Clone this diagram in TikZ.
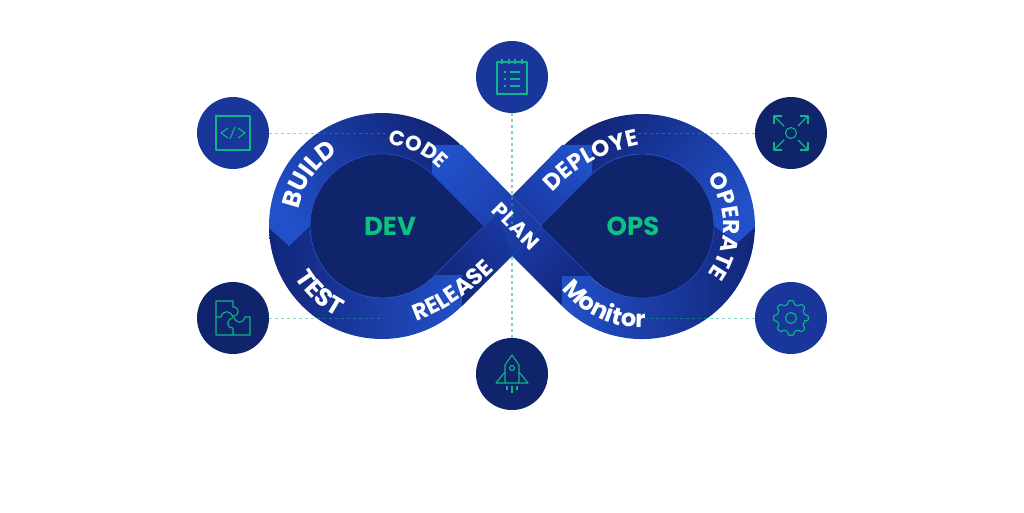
\documentclass[tikz,border=0pt]{standalone}
\usepackage{fontspec}
\setsansfont{Poppins}
\usetikzlibrary{decorations.text}

\definecolor{bright}{HTML}{2150C8}
\definecolor{mid}{HTML}{1A39A3}
\definecolor{dark}{HTML}{12267A}
\definecolor{navy}{HTML}{10246C}
\definecolor{rimblue}{HTML}{2148C0}
\definecolor{discblue}{HTML}{19379A}
\definecolor{icongreen}{HTML}{10B585}
\definecolor{titlegreen}{HTML}{0BC27E}

\newcommand{\bandfont}[1]{\sffamily\bfseries\fontsize{#1}{#1}\selectfont\addfontfeature{LetterSpace=4}}

\tikzset{
	disc/.style={circle, minimum size=72pt, inner sep=0pt, fill=#1},
	icon/.style={draw=icongreen, line width=1.1pt, line join=round},
	link/.style={draw=icongreen, dashed, line width=1.1pt, opacity=0.55},
	hlink/.style={draw=icongreen, dashed, line width=0.7pt, opacity=0.5},
	drop/.style={fill=navy, draw=rimblue, line width=0.7pt},
	title/.style={text=titlegreen, font=\sffamily\bfseries\fontsize{26}{26}\selectfont},
	bandtext/.style={decorate, decoration={text along path, text align=center, text color=white, text={#1}}},
}

\begin{document}
\begin{tikzpicture}[x=1pt, y=1pt]
\useasboundingbox (0,0) rectangle (1024,512);

% circles
\node[disc=discblue] (notes) at (512,435) {};
\node[disc=discblue] (code) at (233,379) {};
\node[disc=navy] (puzzle) at (233,194) {};
\node[disc=navy] (rocket) at (512,138) {};
\node[disc=navy] (expand) at (791,379) {};
\node[disc=discblue] (gear) at (791,194) {};

% loop centres and link ends
\coordinate (cl) at (382,286);
\coordinate (cr) at (642,286);
\coordinate (mid) at (512,286);
\coordinate (notch) at (512,256);
\coordinate (codeend) at (385,379);
\coordinate (puzzleend) at (383,194);
\coordinate (expandend) at (636,379);
\coordinate (gearend) at (645,194);

% crossing, lower arms
\shade[bottom color=dark, top color=mid, shading angle=-45]
	(433,235) -- (498,300) -- (527,271) -- (512,256) -- (462,206) -- cycle;
\shade[bottom color=dark, top color=mid, shading angle=45]
	(562,206) -- (512,256) -- (542,286) -- (592,236) -- cycle;

% lower half of the loops
\shade[left color=dark, right color=bright]
	(269,286) arc (180:315:113) -- (462,237) -- (435,237)
	-- (433,235) arc (-45:-180:72) -- cycle;
\shade[left color=bright, right color=dark]
	(562,206) arc (-135:0:113) -- (713,286) arc (0:-135:72)
	-- (590,236) -- (562,236) -- cycle;

% upper half of the loops
\shade[top color=dark, bottom color=bright, shading angle=-50]
	(269,284) arc (181:45:113) -- (433,337) arc (45:180:72) -- (289,266) -- cycle;
\shade[top color=dark, bottom color=bright, shading angle=50]
	(755,285) arc (0:135:113) -- (591,337) arc (135:0:72) -- (737,269) -- cycle;

% crossing, upper arms
\shade[top color=bright, bottom color=mid, shading angle=45]
	(432,367) -- (462,367) -- (512,316) -- (542,286) -- (512,256)
	-- (498,300) -- (484,286) -- (433,337) -- (432,339) -- cycle;
\shade[top color=bright, bottom color=mid, shading angle=-45]
	(592,367) -- (562,367) -- (512,316) -- (542,286) -- (592,336) -- cycle;

% links
\draw[link] (notes) -- (mid);
\draw[link] (rocket) -- (notch);
\draw[hlink] (code) -- (codeend);
\draw[hlink] (puzzle) -- (puzzleend);
\draw[hlink] (expand) -- (expandend);
\draw[hlink] (gear) -- (gearend);

% inner drops
\draw[drop] (433,337) arc (45:315:72) -- (484,286) -- cycle;
\draw[drop] (591,235) arc (-135:135:72) -- (540,286) -- cycle;
\draw[rimblue, line width=0.7pt] (484,286) -- (498,300);
\draw[rimblue, line width=0.7pt] (512,256) -- (542,286);

% titles
\node[title] (dev) at (390,286) {DEV};
\node[title] (ops) at (633,286) {OPS};

% band labels
\path[bandtext={|\bandfont{25}|BUILD}] ([shift={(cl)}]205:85) arc (205:85:85);
\path[bandtext={|\bandfont{21}|CODE}] ([shift={(cl)}]130:81) arc (130:0:81);
\path[bandtext={|\bandfont{25}|TEST}] ([shift={(cl)}]167:101) arc (167:287:101);
\path[bandtext={|\bandfont{23}|RELEASE}] (388,183) .. controls (442,194) and (472,219) .. (515,263);
\node[rotate=-45, text=white, font=\bandfont{21}] (plan) at (516,286) {PLAN};
\path[bandtext={|\bandfont{23}|DEPLOYE}] (536,300) .. controls (575,347) and (600,362) .. (665,371);
\path[bandtext={|\bandfont{23}|OPERATE}] ([shift={(cr)}]85:81) arc (85:-85:81);
\path[bandtext={|\bandfont{24}|Monitor}] ([shift={(cr)}]180:102) arc (180:310:102);

% code icon
\begin{scope}[shift={(code)}]
\draw[icon] (-17,-17) rectangle (17,17);
\draw[icon] (-5,5) -- (-12,0) -- (-5,-5);
\draw[icon] (5,5) -- (12,0) -- (5,-5);
\draw[icon] (2,6) -- (-3,-6);
\end{scope}

% notes icon
\begin{scope}[shift={(notes)}]
\draw[icon] (-15,-17) rectangle (15,15);
\foreach \x in {-10,-3,3,10}
	\draw[icon] (\x,13) -- (\x,18);
\foreach \y in {5,-2,-9} {
	\draw[icon] (-8,\y) -- (-6,\y);
	\draw[icon] (-2,\y) -- (8,\y);
}
\end{scope}

% rocket icon
\begin{scope}[shift={(rocket)}]
\draw[icon] (0,19) -- (-7,9) -- (-7,-9) -- (7,-9) -- (7,9) -- cycle;
\draw[icon] (-7,2) -- (-16,-9) -- (-7,-9);
\draw[icon] (7,2) -- (16,-9) -- (7,-9);
\draw[icon] (0,6) circle (2.5);
\draw[icon] (-5,-12) -- (-5,-16);
\draw[icon] (0,-12) -- (0,-19);
\draw[icon] (5,-12) -- (5,-16);
\end{scope}

% expand icon
\begin{scope}[shift={(expand)}]
\draw[icon] (0,0) circle (5.5);
\foreach \sx/\sy in {1/1,1/-1,-1/1,-1/-1} {
	\draw[icon] (\sx*7,\sy*7) -- (\sx*17,\sy*17);
	\draw[icon] (\sx*9,\sy*17) -- (\sx*17,\sy*17) -- (\sx*17,\sy*9);
}
\end{scope}

% gear icon
\begin{scope}[shift={(gear)}]
\draw[icon] (0,0) circle (5.5);
\draw[icon, rounded corners=1pt] (-10:14)
	\foreach \a in {0,45,...,315} { -- (\a-9:17.5) -- (\a+9:17.5) -- (\a+13:14) -- (\a+32:14) } -- cycle;
\end{scope}

% puzzle icon
\begin{scope}[shift={(puzzle)}]
\draw[icon] (-17,1) -- (-17,17) -- (0,17) -- (0,11) .. controls (7,11) and (7,2) .. (0,2) -- (0,1)
	.. controls (-3,8) and (-10,8) .. (-12,1) -- cycle;
\draw[icon] (-17,1) -- (-17,-17) -- (17,-17) -- (17,1) -- (12,1) .. controls (10,-6) and (3,-6) .. (1,1);
\draw[icon] (0,-17) -- (0,-10) .. controls (-7,-10) and (-7,-1) .. (0,0);
\end{scope}

\end{tikzpicture}
\end{document}
